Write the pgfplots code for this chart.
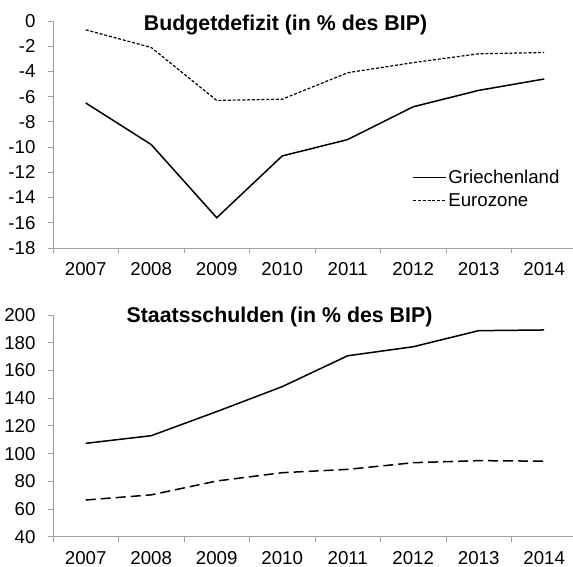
\documentclass[border=0pt]{standalone}
\usepackage{pgfplots}
\pgfplotsset{compat=1.18}
\usepackage{fontspec}
\setmainfont{Liberation Sans}
\definecolor{axgray}{RGB}{160,160,160}
\begin{document}
\begin{tikzpicture}[x=1bp,y=1bp]
\path[use as bounding box] (0,0) rectangle (573,-567);
\pgfplotsset{
  myaxis/.style={
    scale only axis, width=520bp,
    xmin=-0.5, xmax=7.44,
    axis x line=bottom, axis y line=left,
    axis line style={-, axgray, line width=0.9bp},
    tick align=outside,
    major tick length=5bp, minor tick length=5bp,
    tick style={axgray, line width=0.9bp},
    major x tick style={draw=none},
    xtick={0,...,7},
    xticklabels={2007,2008,2009,2010,2011,2012,2013,2014},
    minor xtick={-0.5,0.5,...,6.5},
    /pgf/number format/assume math mode=true,
    tick label style={font=\fontsize{18.67bp}{22bp}\selectfont, black},
    xticklabel style={yshift=-6bp},
    yticklabel style={xshift=-9bp},
  }
}
\begin{axis}[myaxis, at={(53bp,-248bp)}, anchor=south west, height=227bp,
  ymin=-18, ymax=0, ytick={-18,-16,...,0},
  legend style={draw=none, fill=none, at={(0.685,0.36)}, anchor=north west,
    font=\fontsize{18.67bp}{22bp}\selectfont, row sep=5.5bp,
    nodes={inner sep=1.5bp}},
  legend cell align=left,
  legend image code/.code={\draw[#1] (0bp,0bp) -- (33bp,0bp);}]
\addplot[black, line width=1.5bp] coordinates {(0,-6.5)(1,-9.8)(2,-15.6)(3,-10.7)(4,-9.4)(5,-6.8)(6,-5.5)(7,-4.6)};
\addlegendentry{Griechenland}
\addplot[black, line width=1.2bp, dash pattern=on 3bp off 1.8bp] coordinates {(0,-0.7)(1,-2.1)(2,-6.3)(3,-6.2)(4,-4.1)(5,-3.3)(6,-2.6)(7,-2.5)};
\addlegendentry{Eurozone}
\end{axis}
\begin{axis}[myaxis, at={(53bp,-536.7bp)}, anchor=south west, height=221.7bp,
  ymin=40, ymax=200, ytick={40,60,...,200}]
\addplot[black, line width=1.5bp] coordinates {(0,107.4)(1,112.9)(2,130.3)(3,148.3)(4,170.6)(5,177.1)(6,188.7)(7,189.2)};
\addplot[black, line width=1.5bp, dash pattern=on 10bp off 5bp] coordinates {(0,66.5)(1,70.2)(2,80.2)(3,86.2)(4,88.6)(5,93.4)(6,94.9)(7,94.5)};
\end{axis}
\node[font=\fontsize{21.33bp}{25bp}\selectfont\bfseries] at (285.5,-25) {Budgetdefizit (in \% des BIP)};
\node[font=\fontsize{21.33bp}{25bp}\selectfont\bfseries] at (279.5,-317) {Staatsschulden (in \% des BIP)};
\end{tikzpicture}
\end{document}
